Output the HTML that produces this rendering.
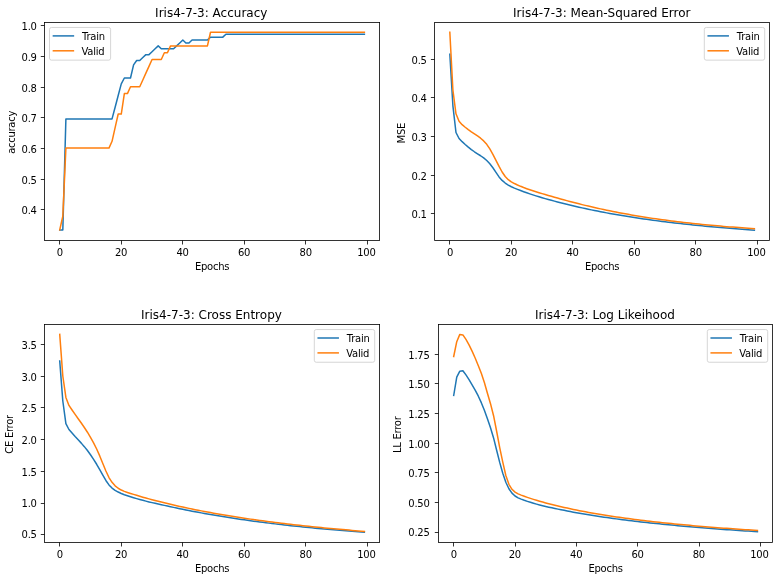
<!DOCTYPE html>
<html lang="en">
<head>
<meta charset="utf-8">
<title>Iris4-7-3 training curves</title>
<style>
html,body{margin:0;padding:0;background:#fff;}
svg{display:block;}
text{font-family:"DejaVu Sans", "Liberation Sans", sans-serif;fill:#000;}
.t10{font-size:10px;letter-spacing:-0.28px;}
.t12{font-size:12px;}
.lg{letter-spacing:-0.25px;}
.mid{text-anchor:middle;}
.end{text-anchor:end;}
.spine{fill:none;stroke:#000;stroke-width:0.8;stroke-linejoin:miter;}
.tick{stroke:#000;stroke-width:0.8;}
.ln{fill:none;stroke-width:1.5;stroke-linejoin:round;stroke-linecap:square;}
.leg{fill:#fff;fill-opacity:0.8;stroke:#ccc;stroke-opacity:0.8;stroke-width:1;}
</style>
</head>
<body>
<svg width="779" height="580" viewBox="0 0 779 580">
<rect x="0" y="0" width="779" height="580" fill="#fff"/>
<g>
<polyline class="ln" stroke="#1f77b4" points="59.73,229.89 62.81,229.89 65.89,118.91 68.96,118.91 72.04,118.91 75.12,118.91 78.19,118.91 81.27,118.91 84.35,118.91 87.43,118.91 90.5,118.91 93.58,118.91 96.66,118.91 99.73,118.91 102.81,118.91 105.89,118.91 108.97,118.91 112.04,118.91 115.12,107.23 118.2,95.55 121.27,83.86 124.35,78.02 127.43,78.02 130.51,78.02 133.58,64.88 136.66,60.5 139.74,60.5 142.81,57.58 145.89,54.66 148.97,54.66 152.05,51.74 155.12,48.82 158.2,45.89 161.28,48.82 164.35,48.82 167.43,48.82 170.51,48.82 173.59,48.82 176.66,45.89 179.74,42.97 182.82,40.05 185.89,42.97 188.97,42.97 192.05,40.05 195.13,40.05 198.2,40.05 201.28,40.05 204.36,40.05 207.43,40.05 210.51,37.13 213.59,37.13 216.67,37.13 219.74,37.13 222.82,37.13 225.9,34.21 228.97,34.21 232.05,34.21 235.13,34.21 238.21,34.21 241.28,34.21 244.36,34.21 247.44,34.21 250.51,34.21 253.59,34.21 256.67,34.21 259.75,34.21 262.82,34.21 265.9,34.21 268.98,34.21 272.05,34.21 275.13,34.21 278.21,34.21 281.29,34.21 284.36,34.21 287.44,34.21 290.52,34.21 293.59,34.21 296.67,34.21 299.75,34.21 302.83,34.21 305.9,34.21 308.98,34.21 312.06,34.21 315.13,34.21 318.21,34.21 321.29,34.21 324.37,34.21 327.44,34.21 330.52,34.21 333.6,34.21 336.67,34.21 339.75,34.21 342.83,34.21 345.91,34.21 348.98,34.21 352.06,34.21 355.14,34.21 358.21,34.21 361.29,34.21 364.37,34.21"/>
<polyline class="ln" stroke="#ff7f0e" points="59.73,229.89 62.81,216.26 65.89,148.12 68.96,148.12 72.04,148.12 75.12,148.12 78.19,148.12 81.27,148.12 84.35,148.12 87.43,148.12 90.5,148.12 93.58,148.12 96.66,148.12 99.73,148.12 102.81,148.12 105.89,148.12 108.97,148.12 112.04,141.3 115.12,127.67 118.2,114.04 121.27,114.04 124.35,93.6 127.43,93.6 130.51,86.78 133.58,86.78 136.66,86.78 139.74,86.78 142.81,79.97 145.89,73.15 148.97,66.34 152.05,59.52 155.12,59.52 158.2,59.52 161.28,59.52 164.35,52.71 167.43,52.71 170.51,45.89 173.59,45.89 176.66,45.89 179.74,45.89 182.82,45.89 185.89,45.89 188.97,45.89 192.05,45.89 195.13,45.89 198.2,45.89 201.28,45.89 204.36,45.89 207.43,45.89 210.51,32.26 213.59,32.26 216.67,32.26 219.74,32.26 222.82,32.26 225.9,32.26 228.97,32.26 232.05,32.26 235.13,32.26 238.21,32.26 241.28,32.26 244.36,32.26 247.44,32.26 250.51,32.26 253.59,32.26 256.67,32.26 259.75,32.26 262.82,32.26 265.9,32.26 268.98,32.26 272.05,32.26 275.13,32.26 278.21,32.26 281.29,32.26 284.36,32.26 287.44,32.26 290.52,32.26 293.59,32.26 296.67,32.26 299.75,32.26 302.83,32.26 305.9,32.26 308.98,32.26 312.06,32.26 315.13,32.26 318.21,32.26 321.29,32.26 324.37,32.26 327.44,32.26 330.52,32.26 333.6,32.26 336.67,32.26 339.75,32.26 342.83,32.26 345.91,32.26 348.98,32.26 352.06,32.26 355.14,32.26 358.21,32.26 361.29,32.26 364.37,32.26"/>
<line class="tick" x1="59.5" y1="240.4" x2="59.5" y2="244.5"/><text class="t10 mid" x="59.83" y="256">0</text>
<line class="tick" x1="121.5" y1="240.4" x2="121.5" y2="244.5"/><text class="t10 mid" x="121.02" y="256">20</text>
<line class="tick" x1="182.5" y1="240.4" x2="182.5" y2="244.5"/><text class="t10 mid" x="182.57" y="256">40</text>
<line class="tick" x1="244.5" y1="240.4" x2="244.5" y2="244.5"/><text class="t10 mid" x="244.11" y="256">60</text>
<line class="tick" x1="305.5" y1="240.4" x2="305.5" y2="244.5"/><text class="t10 mid" x="305.65" y="256">80</text>
<line class="tick" x1="367.5" y1="240.4" x2="367.5" y2="244.5"/><text class="t10 mid" x="366.35" y="256">100</text>
<line class="tick" x1="40.8" y1="209.5" x2="44.5" y2="209.5"/><text class="t10 end" x="36.7" y="214">0.4</text>
<line class="tick" x1="40.8" y1="179.5" x2="44.5" y2="179.5"/><text class="t10 end" x="36.7" y="184">0.5</text>
<line class="tick" x1="40.8" y1="148.5" x2="44.5" y2="148.5"/><text class="t10 end" x="36.7" y="153">0.6</text>
<line class="tick" x1="40.8" y1="117.5" x2="44.5" y2="117.5"/><text class="t10 end" x="36.7" y="122">0.7</text>
<line class="tick" x1="40.8" y1="87.5" x2="44.5" y2="87.5"/><text class="t10 end" x="36.7" y="92">0.8</text>
<line class="tick" x1="40.8" y1="56.5" x2="44.5" y2="56.5"/><text class="t10 end" x="36.7" y="61">0.9</text>
<line class="tick" x1="40.8" y1="25.5" x2="44.5" y2="25.5"/><text class="t10 end" x="36.7" y="30">1.0</text>
<rect class="spine" x="44.5" y="22.4" width="335.1" height="218"/>
<text class="t10 mid" x="212.05" y="269.9">Epochs</text>
<text class="t10 mid" x="14.62" y="132.4" transform="rotate(-90 14.62 132.4)">accuracy</text>
<text class="t12 mid" x="211.25" y="17">Iris4-7-3: Accuracy</text>
<rect class="leg" x="49.5" y="27.45" width="61.1" height="32.7" rx="2" ry="2"/>
<line class="ln" stroke="#1f77b4" x1="53.4" y1="35.9" x2="73.4" y2="35.9"/><text class="t10 lg" x="82" y="39.75">Train</text>
<line class="ln" stroke="#ff7f0e" x1="53.4" y1="50.8" x2="73.4" y2="50.8"/><text class="t10 lg" x="81.5" y="54.7">Valid</text>
</g>
<g>
<polyline class="ln" stroke="#1f77b4" points="449.83,54.3 452.9,105.8 455.98,132.5 459.06,138.5 462.13,141.68 465.21,144.46 468.28,147.11 471.36,149.55 474.44,151.76 477.51,153.77 480.59,155.75 483.67,157.93 486.74,160.54 489.82,163.78 492.89,167.79 495.97,172.35 499.05,176.91 502.12,180.44 505.2,183.04 508.28,185.09 511.35,186.76 514.43,188.16 517.5,189.39 520.58,190.57 523.66,191.7 526.73,192.79 529.81,193.84 532.89,194.86 535.96,195.84 539.04,196.79 542.11,197.71 545.19,198.6 548.27,199.47 551.34,200.32 554.42,201.14 557.49,201.95 560.57,202.74 563.65,203.53 566.72,204.29 569.8,205.05 572.88,205.78 575.95,206.5 579.03,207.2 582.1,207.89 585.18,208.56 588.26,209.22 591.33,209.86 594.41,210.49 597.49,211.11 600.56,211.71 603.64,212.3 606.71,212.88 609.79,213.44 612.87,213.99 615.94,214.53 619.02,215.06 622.1,215.58 625.17,216.09 628.25,216.59 631.32,217.07 634.4,217.55 637.48,218.01 640.55,218.47 643.63,218.92 646.71,219.36 649.78,219.78 652.86,220.2 655.93,220.62 659.01,221.02 662.09,221.41 665.16,221.8 668.24,222.18 671.31,222.55 674.39,222.91 677.47,223.27 680.54,223.62 683.62,223.96 686.7,224.29 689.77,224.62 692.85,224.94 695.92,225.25 699,225.56 702.08,225.86 705.15,226.16 708.23,226.45 711.31,226.73 714.38,227.01 717.46,227.28 720.53,227.55 723.61,227.81 726.69,228.07 729.76,228.32 732.84,228.57 735.92,228.81 738.99,229.04 742.07,229.27 745.14,229.5 748.22,229.72 751.3,229.94 754.37,230.15"/>
<polyline class="ln" stroke="#ff7f0e" points="449.83,32.3 452.9,90 455.98,113.8 459.06,121.2 462.13,124.64 465.21,127.25 468.28,129.69 471.36,131.9 474.44,133.96 477.51,135.97 480.59,138.19 483.67,140.89 486.74,144.37 489.82,148.89 492.89,154.39 495.97,160.42 499.05,166.46 502.12,172 505.2,176.51 508.28,179.66 511.35,181.84 514.43,183.54 517.5,184.99 520.58,186.32 523.66,187.55 526.73,188.69 529.81,189.77 532.89,190.79 535.96,191.76 539.04,192.69 542.11,193.61 545.19,194.51 548.27,195.41 551.34,196.31 554.42,197.21 557.49,198.09 560.57,198.96 563.65,199.82 566.72,200.65 569.8,201.47 572.88,202.28 575.95,203.08 579.03,203.85 582.1,204.62 585.18,205.37 588.26,206.1 591.33,206.82 594.41,207.53 597.49,208.22 600.56,208.89 603.64,209.55 606.71,210.2 609.79,210.84 612.87,211.46 615.94,212.06 619.02,212.66 622.1,213.24 625.17,213.8 628.25,214.36 631.32,214.9 634.4,215.43 637.48,215.95 640.55,216.46 643.63,216.95 646.71,217.43 649.78,217.91 652.86,218.37 655.93,218.82 659.01,219.26 662.09,219.69 665.16,220.11 668.24,220.52 671.31,220.92 674.39,221.31 677.47,221.69 680.54,222.06 683.62,222.42 686.7,222.78 689.77,223.12 692.85,223.46 695.92,223.79 699,224.11 702.08,224.42 705.15,224.72 708.23,225.02 711.31,225.3 714.38,225.58 717.46,225.86 720.53,226.12 723.61,226.38 726.69,226.63 729.76,226.88 732.84,227.11 735.92,227.34 738.99,227.57 742.07,227.79 745.14,228 748.22,228.2 751.3,228.4 754.37,228.6"/>
<line class="tick" x1="449.5" y1="240.4" x2="449.5" y2="244.5"/><text class="t10 mid" x="449.93" y="256">0</text>
<line class="tick" x1="511.5" y1="240.4" x2="511.5" y2="244.5"/><text class="t10 mid" x="511.1" y="256">20</text>
<line class="tick" x1="572.5" y1="240.4" x2="572.5" y2="244.5"/><text class="t10 mid" x="572.63" y="256">40</text>
<line class="tick" x1="634.5" y1="240.4" x2="634.5" y2="244.5"/><text class="t10 mid" x="634.15" y="256">60</text>
<line class="tick" x1="695.5" y1="240.4" x2="695.5" y2="244.5"/><text class="t10 mid" x="695.67" y="256">80</text>
<line class="tick" x1="757.5" y1="240.4" x2="757.5" y2="244.5"/><text class="t10 mid" x="756.35" y="256">100</text>
<line class="tick" x1="430.9" y1="213.5" x2="434.6" y2="213.5"/><text class="t10 end" x="426.7" y="218">0.1</text>
<line class="tick" x1="430.9" y1="175.5" x2="434.6" y2="175.5"/><text class="t10 end" x="426.7" y="180">0.2</text>
<line class="tick" x1="430.9" y1="136.5" x2="434.6" y2="136.5"/><text class="t10 end" x="426.7" y="141">0.3</text>
<line class="tick" x1="430.9" y1="97.5" x2="434.6" y2="97.5"/><text class="t10 end" x="426.7" y="102">0.4</text>
<line class="tick" x1="430.9" y1="59.5" x2="434.6" y2="59.5"/><text class="t10 end" x="426.7" y="64">0.5</text>
<rect class="spine" x="434.6" y="22.4" width="335" height="218"/>
<text class="t10 mid" x="602.1" y="269.9">Epochs</text>
<text class="t10 mid" x="404.82" y="133.2" transform="rotate(-90 404.82 133.2)">MSE</text>
<text class="t12 mid" x="601.8" y="17">Iris4-7-3: Mean-Squared Error</text>
<rect class="leg" x="704.3" y="27.45" width="60.4" height="32.7" rx="2" ry="2"/>
<line class="ln" stroke="#1f77b4" x1="708.2" y1="35.9" x2="728.2" y2="35.9"/><text class="t10 lg" x="736.8" y="39.75">Train</text>
<line class="ln" stroke="#ff7f0e" x1="708.2" y1="50.8" x2="728.2" y2="50.8"/><text class="t10 lg" x="736.3" y="54.7">Valid</text>
</g>
<g>
<polyline class="ln" stroke="#1f77b4" points="59.73,361 62.81,401 65.89,423.7 68.96,429.5 72.04,433.03 75.12,436.53 78.19,439.81 81.27,443.13 84.35,446.65 87.43,450.51 90.5,454.73 93.58,459.31 96.66,464.26 99.73,469.58 102.81,475.15 105.89,480.48 108.97,484.93 112.04,488.08 115.12,490.29 118.2,492.03 121.27,493.47 124.35,494.69 127.43,495.76 130.51,496.77 133.58,497.73 136.66,498.64 139.74,499.51 142.81,500.34 145.89,501.13 148.97,501.9 152.05,502.63 155.12,503.35 158.2,504.04 161.28,504.72 164.35,505.39 167.43,506.05 170.51,506.71 173.59,507.38 176.66,508.04 179.74,508.69 182.82,509.32 185.89,509.94 188.97,510.55 192.05,511.15 195.13,511.74 198.2,512.31 201.28,512.88 204.36,513.44 207.43,513.99 210.51,514.53 213.59,515.06 216.67,515.58 219.74,516.09 222.82,516.59 225.9,517.08 228.97,517.56 232.05,518.04 235.13,518.51 238.21,518.97 241.28,519.42 244.36,519.86 247.44,520.29 250.51,520.72 253.59,521.14 256.67,521.55 259.75,521.96 262.82,522.36 265.9,522.75 268.98,523.13 272.05,523.51 275.13,523.88 278.21,524.24 281.29,524.6 284.36,524.95 287.44,525.3 290.52,525.64 293.59,525.97 296.67,526.3 299.75,526.62 302.83,526.94 305.9,527.25 308.98,527.56 312.06,527.86 315.13,528.16 318.21,528.45 321.29,528.73 324.37,529.01 327.44,529.29 330.52,529.56 333.6,529.83 336.67,530.09 339.75,530.35 342.83,530.6 345.91,530.85 348.98,531.09 352.06,531.33 355.14,531.57 358.21,531.8 361.29,532.03 364.37,532.26"/>
<polyline class="ln" stroke="#ff7f0e" points="59.73,334.4 62.81,376 65.89,397.4 68.96,405.4 72.04,410 75.12,414.4 78.19,418.72 81.27,423.05 84.35,427.52 87.43,432.23 90.5,437.3 93.58,442.85 96.66,449.02 99.73,455.92 102.81,463.5 105.89,471.01 108.97,477.53 112.04,482.37 115.12,485.79 118.2,488.26 121.27,490.04 124.35,491.36 127.43,492.43 130.51,493.43 133.58,494.4 136.66,495.34 139.74,496.26 142.81,497.16 145.89,498.03 148.97,498.88 152.05,499.7 155.12,500.51 158.2,501.3 161.28,502.07 164.35,502.83 167.43,503.57 170.51,504.29 173.59,505.01 176.66,505.71 179.74,506.4 182.82,507.08 185.89,507.74 188.97,508.39 192.05,509.03 195.13,509.66 198.2,510.27 201.28,510.87 204.36,511.46 207.43,512.04 210.51,512.61 213.59,513.17 216.67,513.72 219.74,514.26 222.82,514.78 225.9,515.3 228.97,515.81 232.05,516.31 235.13,516.8 238.21,517.28 241.28,517.76 244.36,518.22 247.44,518.68 250.51,519.13 253.59,519.57 256.67,520 259.75,520.43 262.82,520.84 265.9,521.25 268.98,521.66 272.05,522.06 275.13,522.45 278.21,522.83 281.29,523.21 284.36,523.58 287.44,523.94 290.52,524.3 293.59,524.65 296.67,525 299.75,525.34 302.83,525.68 305.9,526.01 308.98,526.33 312.06,526.65 315.13,526.97 318.21,527.28 321.29,527.58 324.37,527.88 327.44,528.18 330.52,528.47 333.6,528.75 336.67,529.04 339.75,529.31 342.83,529.59 345.91,529.85 348.98,530.12 352.06,530.38 355.14,530.63 358.21,530.89 361.29,531.14 364.37,531.38"/>
<line class="tick" x1="59.5" y1="542.4" x2="59.5" y2="546.5"/><text class="t10 mid" x="59.83" y="558">0</text>
<line class="tick" x1="121.5" y1="542.4" x2="121.5" y2="546.5"/><text class="t10 mid" x="121.02" y="558">20</text>
<line class="tick" x1="182.5" y1="542.4" x2="182.5" y2="546.5"/><text class="t10 mid" x="182.57" y="558">40</text>
<line class="tick" x1="244.5" y1="542.4" x2="244.5" y2="546.5"/><text class="t10 mid" x="244.11" y="558">60</text>
<line class="tick" x1="305.5" y1="542.4" x2="305.5" y2="546.5"/><text class="t10 mid" x="305.65" y="558">80</text>
<line class="tick" x1="367.5" y1="542.4" x2="367.5" y2="546.5"/><text class="t10 mid" x="366.35" y="558">100</text>
<line class="tick" x1="40.8" y1="534.5" x2="44.5" y2="534.5"/><text class="t10 end" x="36.7" y="538.4">0.5</text>
<line class="tick" x1="40.8" y1="503.5" x2="44.5" y2="503.5"/><text class="t10 end" x="36.7" y="507">1.0</text>
<line class="tick" x1="40.8" y1="471.5" x2="44.5" y2="471.5"/><text class="t10 end" x="36.7" y="476">1.5</text>
<line class="tick" x1="40.8" y1="439.5" x2="44.5" y2="439.5"/><text class="t10 end" x="36.7" y="444">2.0</text>
<line class="tick" x1="40.8" y1="407.5" x2="44.5" y2="407.5"/><text class="t10 end" x="36.7" y="412">2.5</text>
<line class="tick" x1="40.8" y1="376.5" x2="44.5" y2="376.5"/><text class="t10 end" x="36.7" y="381">3.0</text>
<line class="tick" x1="40.8" y1="344.5" x2="44.5" y2="344.5"/><text class="t10 end" x="36.7" y="349">3.5</text>
<rect class="spine" x="44.5" y="324.5" width="335.1" height="217.9"/>
<text class="t10 mid" x="212.05" y="571.9">Epochs</text>
<text class="t10 mid" x="13.22" y="434.45" transform="rotate(-90 13.22 434.45)">CE Error</text>
<text class="t12 mid" x="211.45" y="319.1">Iris4-7-3: Cross Entropy</text>
<rect class="leg" x="314.3" y="329.55" width="60.4" height="32.7" rx="2" ry="2"/>
<line class="ln" stroke="#1f77b4" x1="318.2" y1="338" x2="338.2" y2="338"/><text class="t10 lg" x="346.8" y="341.85">Train</text>
<line class="ln" stroke="#ff7f0e" x1="318.2" y1="352.9" x2="338.2" y2="352.9"/><text class="t10 lg" x="346.3" y="356.8">Valid</text>
</g>
<g>
<polyline class="ln" stroke="#1f77b4" points="453.69,395.5 456.75,377.1 459.82,371.2 462.89,370.7 465.96,374.9 469.03,379.69 472.09,384.83 475.16,390.15 478.23,395.97 481.3,402.68 484.37,410.28 487.43,418.66 490.5,427.75 493.57,437.92 496.64,450.22 499.71,462.4 502.77,473.18 505.84,482.3 508.91,488.77 511.98,493.14 515.05,496.01 518.11,497.85 521.18,499.14 524.25,500.28 527.32,501.34 530.39,502.33 533.45,503.26 536.52,504.13 539.59,504.95 542.66,505.73 545.72,506.46 548.79,507.16 551.86,507.83 554.93,508.48 558,509.11 561.06,509.72 564.13,510.34 567.2,510.95 570.27,511.56 573.34,512.15 576.4,512.7 579.47,513.25 582.54,513.78 585.61,514.29 588.68,514.8 591.74,515.29 594.81,515.77 597.88,516.25 600.95,516.71 604.02,517.16 607.08,517.6 610.15,518.03 613.22,518.45 616.29,518.87 619.36,519.27 622.42,519.67 625.49,520.06 628.56,520.44 631.63,520.81 634.7,521.18 637.76,521.54 640.83,521.89 643.9,522.24 646.97,522.58 650.04,522.91 653.1,523.24 656.17,523.56 659.24,523.87 662.31,524.18 665.38,524.49 668.44,524.79 671.51,525.08 674.58,525.37 677.65,525.66 680.71,525.94 683.78,526.21 686.85,526.48 689.92,526.75 692.99,527.01 696.05,527.27 699.12,527.52 702.19,527.77 705.26,528.02 708.33,528.26 711.39,528.5 714.46,528.73 717.53,528.96 720.6,529.19 723.67,529.41 726.73,529.63 729.8,529.85 732.87,530.06 735.94,530.28 739.01,530.48 742.07,530.69 745.14,530.89 748.21,531.09 751.28,531.29 754.35,531.48 757.41,531.67"/>
<polyline class="ln" stroke="#ff7f0e" points="453.69,356.5 456.75,341.7 459.82,334.4 462.89,334.9 465.96,339.39 469.03,344.82 472.09,351.1 475.16,358.04 478.23,365.45 481.3,373.35 484.37,382.55 487.43,393.28 490.5,403.68 493.57,415.69 496.64,431.26 499.71,447.6 502.77,462.08 505.84,475.51 508.91,484.27 511.98,489.28 515.05,492.1 518.11,493.85 521.18,495.12 524.25,496.26 527.32,497.35 530.39,498.39 533.45,499.38 536.52,500.32 539.59,501.22 542.66,502.09 545.72,502.92 548.79,503.72 551.86,504.5 554.93,505.25 558,505.98 561.06,506.69 564.13,507.4 567.2,508.09 570.27,508.77 573.34,509.42 576.4,510.05 579.47,510.66 582.54,511.25 585.61,511.83 588.68,512.39 591.74,512.94 594.81,513.48 597.88,514 600.95,514.51 604.02,515.01 607.08,515.5 610.15,515.97 613.22,516.43 616.29,516.89 619.36,517.33 622.42,517.77 625.49,518.19 628.56,518.61 631.63,519.01 634.7,519.41 637.76,519.8 640.83,520.18 643.9,520.55 646.97,520.92 650.04,521.28 653.1,521.63 656.17,521.98 659.24,522.31 662.31,522.65 665.38,522.97 668.44,523.29 671.51,523.6 674.58,523.91 677.65,524.21 680.71,524.51 683.78,524.8 686.85,525.08 689.92,525.36 692.99,525.64 696.05,525.91 699.12,526.18 702.19,526.44 705.26,526.69 708.33,526.95 711.39,527.19 714.46,527.44 717.53,527.68 720.6,527.91 723.67,528.14 726.73,528.37 729.8,528.6 732.87,528.82 735.94,529.03 739.01,529.25 742.07,529.46 745.14,529.67 748.21,529.87 751.28,530.07 754.35,530.27 757.41,530.46"/>
<line class="tick" x1="453.5" y1="542.4" x2="453.5" y2="546.5"/><text class="t10 mid" x="453.79" y="558">0</text>
<line class="tick" x1="515.5" y1="542.4" x2="515.5" y2="546.5"/><text class="t10 mid" x="514.8" y="558">20</text>
<line class="tick" x1="576.5" y1="542.4" x2="576.5" y2="546.5"/><text class="t10 mid" x="576.15" y="558">40</text>
<line class="tick" x1="637.5" y1="542.4" x2="637.5" y2="546.5"/><text class="t10 mid" x="637.51" y="558">60</text>
<line class="tick" x1="699.5" y1="542.4" x2="699.5" y2="546.5"/><text class="t10 mid" x="698.87" y="558">80</text>
<line class="tick" x1="760.5" y1="542.4" x2="760.5" y2="546.5"/><text class="t10 mid" x="759.38" y="558">100</text>
<line class="tick" x1="434.8" y1="532.5" x2="438.5" y2="532.5"/><text class="t10 end" x="429.5" y="536.2">0.25</text>
<line class="tick" x1="434.8" y1="502.5" x2="438.5" y2="502.5"/><text class="t10 end" x="429.5" y="507">0.50</text>
<line class="tick" x1="434.8" y1="472.5" x2="438.5" y2="472.5"/><text class="t10 end" x="429.5" y="477">0.75</text>
<line class="tick" x1="434.8" y1="443.5" x2="438.5" y2="443.5"/><text class="t10 end" x="429.5" y="448">1.00</text>
<line class="tick" x1="434.8" y1="413.5" x2="438.5" y2="413.5"/><text class="t10 end" x="429.5" y="418">1.25</text>
<line class="tick" x1="434.8" y1="383.5" x2="438.5" y2="383.5"/><text class="t10 end" x="429.5" y="388">1.50</text>
<line class="tick" x1="434.8" y1="354.5" x2="438.5" y2="354.5"/><text class="t10 end" x="429.5" y="359">1.75</text>
<rect class="spine" x="438.5" y="324.5" width="334.1" height="217.9"/>
<text class="t10 mid" x="605.55" y="571.9">Epochs</text>
<text class="t10 mid" x="401.25" y="434.75" transform="rotate(-90 401.25 434.75)">LL Error</text>
<text class="t12 mid" x="604.95" y="319.1">Iris4-7-3: Log Likeihood</text>
<rect class="leg" x="707.3" y="329.55" width="60.4" height="32.7" rx="2" ry="2"/>
<line class="ln" stroke="#1f77b4" x1="711.2" y1="338" x2="731.2" y2="338"/><text class="t10 lg" x="739.8" y="341.85">Train</text>
<line class="ln" stroke="#ff7f0e" x1="711.2" y1="352.9" x2="731.2" y2="352.9"/><text class="t10 lg" x="739.3" y="356.8">Valid</text>
</g>
</svg>
</body>
</html>
